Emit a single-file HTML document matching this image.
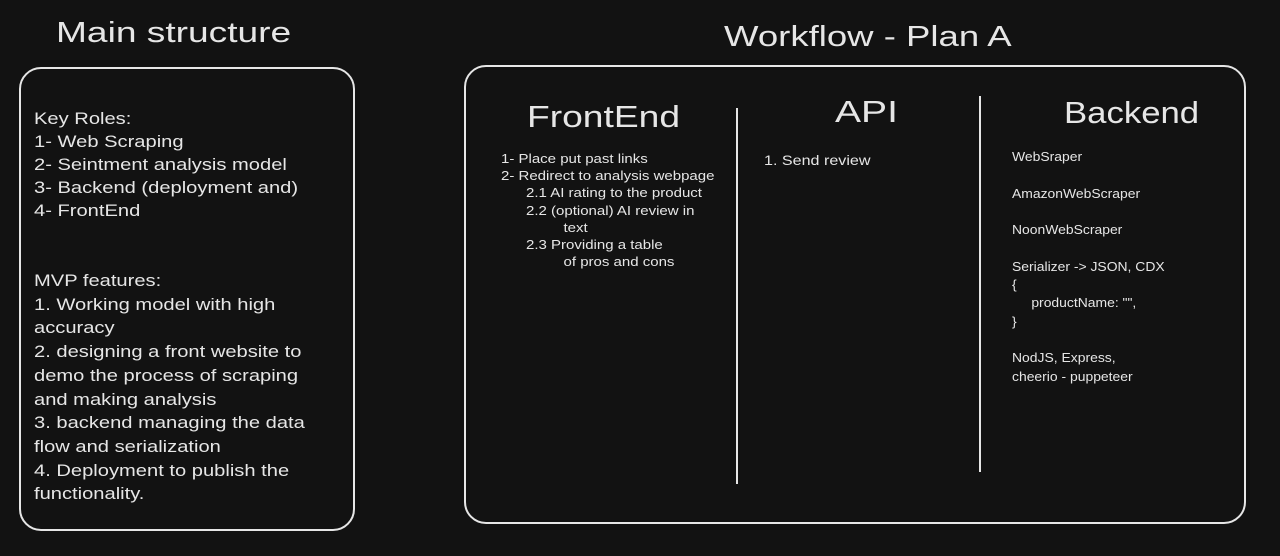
<!DOCTYPE html>
<html><head><meta charset="utf-8"><style>
body{margin:0;background:#121212;width:1280px;height:556px;overflow:hidden;position:relative;font-family:"Liberation Sans",sans-serif;color:#e6e6e6}
.t{position:absolute;white-space:nowrap;line-height:1;transform-origin:0 0}
.box{position:absolute;border:2px solid #e6e6e6;border-radius:22px}
.v{position:absolute;width:2px;background:#e6e6e6}
</style></head><body>
<div class="t" style="left:56px;top:19px;font-size:29px;transform:scaleX(1.28)">Main structure</div>
<div class="t" style="left:724px;top:23px;font-size:29px;transform:scaleX(1.26)">Workflow - Plan A</div>
<div class="box" style="left:19px;top:67px;width:332px;height:460px"></div>
<div class="box" style="left:464px;top:65px;width:778px;height:455px"></div>
<div class="v" style="left:736px;top:108px;height:376px"></div>
<div class="v" style="left:979px;top:96px;height:376px"></div>

<div class="t" style="left:34px;top:108px;font-size:16.5px;line-height:23px;transform:scaleX(1.22)">Key Roles:<br>1- Web Scraping<br>2- Seintment analysis model<br>3- Backend (deployment and)<br>4- FrontEnd</div>
<div class="t" style="left:34px;top:270px;font-size:16.5px;line-height:23.7px;transform:scaleX(1.22)">MVP features:<br>1. Working model with high<br>accuracy<br>2. designing a front website to<br>demo the process of scraping<br>and making analysis<br>3. backend managing the data<br>flow and serialization<br>4. Deployment to publish the<br>functionality.</div>

<div class="t" style="left:527px;top:101px;font-size:31px;transform:scaleX(1.2)">FrontEnd</div>
<div class="t" style="left:835px;top:96px;font-size:31px;transform:scaleX(1.26)">API</div>
<div class="t" style="left:1064px;top:97px;font-size:31px;transform:scaleX(1.12)">Backend</div>

<div class="t" style="left:501px;top:151px;font-size:12.5px;line-height:17.2px;transform:scaleX(1.2)">1- Place put past links<br>2- Redirect to analysis webpage<br>&nbsp;&nbsp;&nbsp;&nbsp;&nbsp;&nbsp;2.1 AI rating to the product<br>&nbsp;&nbsp;&nbsp;&nbsp;&nbsp;&nbsp;2.2 (optional) AI review in<br>&nbsp;&nbsp;&nbsp;&nbsp;&nbsp;&nbsp;&nbsp;&nbsp;&nbsp;&nbsp;&nbsp;&nbsp;&nbsp;&nbsp;&nbsp;text<br>&nbsp;&nbsp;&nbsp;&nbsp;&nbsp;&nbsp;2.3 Providing a table<br>&nbsp;&nbsp;&nbsp;&nbsp;&nbsp;&nbsp;&nbsp;&nbsp;&nbsp;&nbsp;&nbsp;&nbsp;&nbsp;&nbsp;&nbsp;of pros and cons</div>
<div class="t" style="left:764px;top:153px;font-size:14px;transform:scaleX(1.15)">1. Send review</div>
<div class="t" style="left:1012px;top:148px;font-size:13px;line-height:18.3px;transform:scaleX(1.07)">WebSraper<br><br>AmazonWebScraper<br><br>NoonWebScraper<br><br>Serializer -&gt; JSON, CDX<br>{<br>&nbsp;&nbsp;&nbsp;&nbsp;&nbsp;productName: "",<br>}<br><br>NodJS, Express,<br>cheerio - puppeteer</div>
</body></html>
